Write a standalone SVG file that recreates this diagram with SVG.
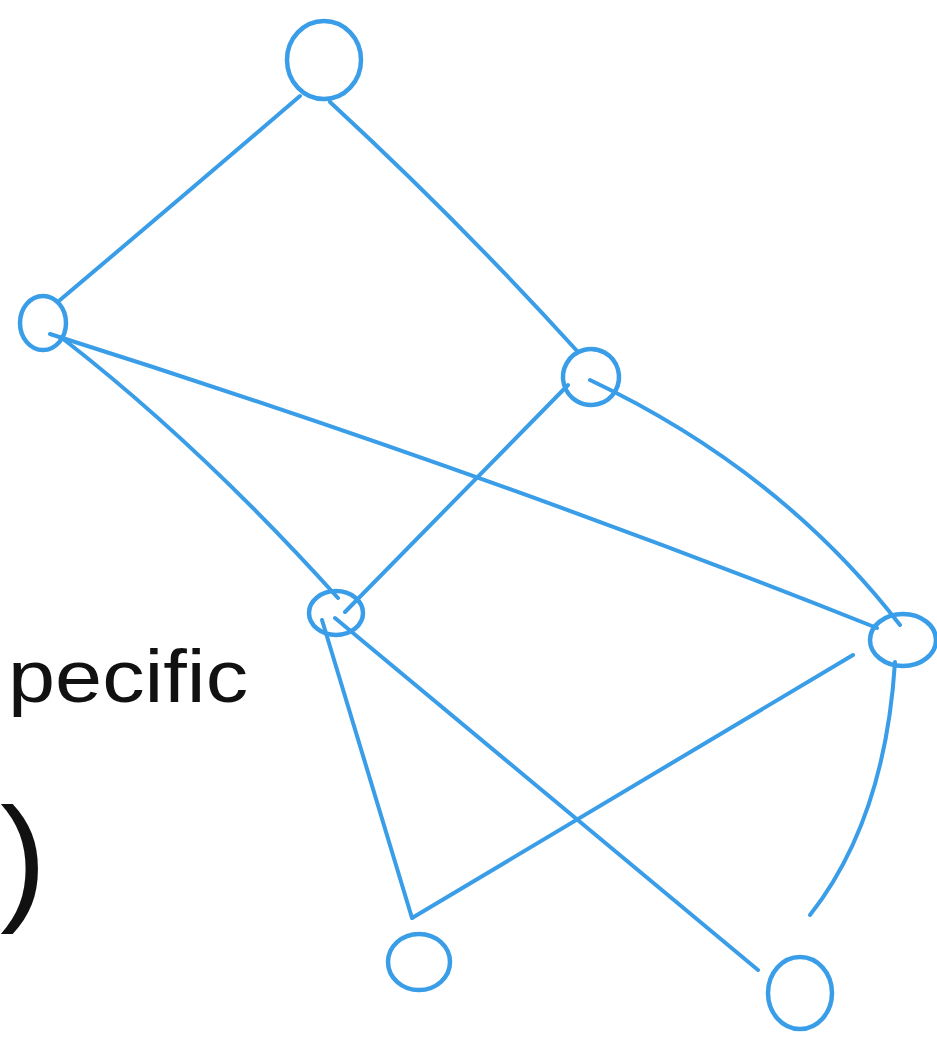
<svg xmlns="http://www.w3.org/2000/svg" width="937" height="1037" viewBox="0 0 937 1037">
<style>
.n{fill:none;stroke:#3a9de8;stroke-width:4.5;stroke-linecap:round}
.e{fill:none;stroke:#3a9de8;stroke-width:4;stroke-linecap:round}
.t{font-family:"Liberation Sans",sans-serif;fill:#111}
</style>
<rect width="937" height="1037" fill="#fff"/>
<g id="edges">
<path class="e" d="M300,96 Q188,192 60,300"/>
<path class="e" d="M330,102 Q460,222 578,352"/>
<path class="e" d="M50,334 Q480,470 877,628"/>
<path class="e" d="M62,338 Q200,445 338,598"/>
<path class="e" d="M568,385 L345,612"/>
<path class="e" d="M590,380 Q780,470 900,625"/>
<path class="e" d="M322,620 L412,918"/>
<path class="e" d="M335,618 L758,970"/>
<path class="e" d="M853,655 L412,918"/>
<path class="e" d="M895,662 Q885,820 810,915"/>
</g>
<g id="node-top"><ellipse class="n" cx="324" cy="60" rx="37" ry="39"/></g>
<g id="node-left"><ellipse class="n" cx="43" cy="323" rx="23" ry="27"/></g>
<g id="node-midright"><ellipse class="n" cx="591" cy="377" rx="28" ry="28" transform="rotate(30 591 377)"/></g>
<g id="node-middle"><ellipse class="n" cx="336" cy="613" rx="27" ry="22"/></g>
<g id="node-right"><ellipse class="n" cx="903" cy="640" rx="33" ry="26"/></g>
<g id="node-bottomleft"><ellipse class="n" cx="419" cy="962" rx="31" ry="28"/></g>
<g id="node-bottomright"><ellipse class="n" cx="800" cy="993" rx="32" ry="36"/></g>
<g id="labels">
<text class="t" x="8" y="702" font-size="74" textLength="240" lengthAdjust="spacingAndGlyphs">pecific</text>
<text class="t" x="0" y="905" font-size="140">)</text>
</g>
</svg>
